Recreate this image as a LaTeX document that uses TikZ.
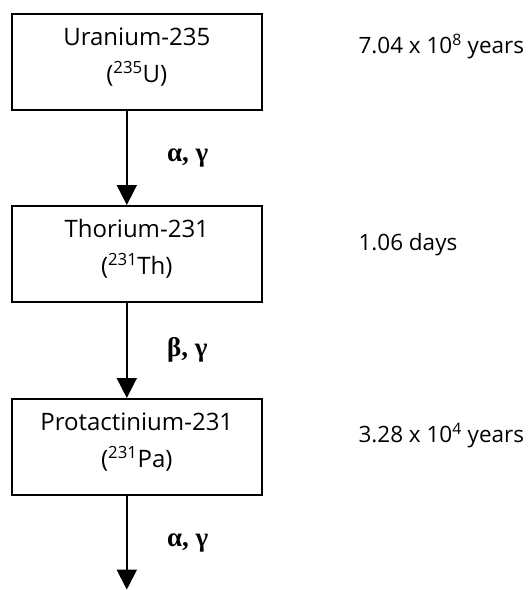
\documentclass[tikz,border=0pt]{standalone}
\usepackage{fontspec}
\setmainfont{Open Sans}
\newfontfamily\greekfont{Liberation Serif}
\usetikzlibrary{positioning,arrows.meta}

\newcommand{\iso}[2]{(\textsuperscript{#1}#2)}

\begin{document}
\begin{tikzpicture}[x=1pt,y=-1pt,
    nuclide/.style={draw,line width=1.6pt,anchor=north west,
      minimum width=250pt,minimum height=96pt,inner sep=0pt,text depth=13pt,
      align=center,font=\fontsize{24}{37}\selectfont},
    halflife/.style={anchor=base west,font=\fontsize{22.5}{26}\selectfont},
    decay/.style={line width=1.8pt,-{Triangle[width=20pt,length=20pt]}},
    particles/.style={right=36pt,font=\greekfont\bfseries\fontsize{27}{30}\selectfont}]
  \useasboundingbox (0,0) rectangle (529,590);

  % decay chain
  \node[nuclide] (u235) at (11,13) {Uranium-235\\\iso{235}{U}};
  \node[nuclide] (th231) at (11,205) {Thorium-231\\\iso{231}{Th}};
  \node[nuclide] (pa231) at (11,398) {Protactinium-231\\\iso{231}{Pa}};
  \coordinate (next) at ([xshift=-10pt,yshift=-94pt]pa231.south);

  \draw[decay] ([xshift=-10pt]u235.south) -- node[particles] {α, γ} ([xshift=-10pt]th231.north);
  \draw[decay] ([xshift=-10pt]th231.south) -- node[particles] {β, γ} ([xshift=-10pt]pa231.north);
  \draw[decay] ([xshift=-10pt]pa231.south) -- node[particles] {α, γ} (next);

  % half-lives
  \node[halflife] (t1) at (355,53) {7.04 x 10\textsuperscript{8} years};
  \node[halflife] (t2) at (355,250) {1.06 days};
  \node[halflife] (t3) at (355,442) {3.28 x 10\textsuperscript{4} years};
\end{tikzpicture}
\end{document}
